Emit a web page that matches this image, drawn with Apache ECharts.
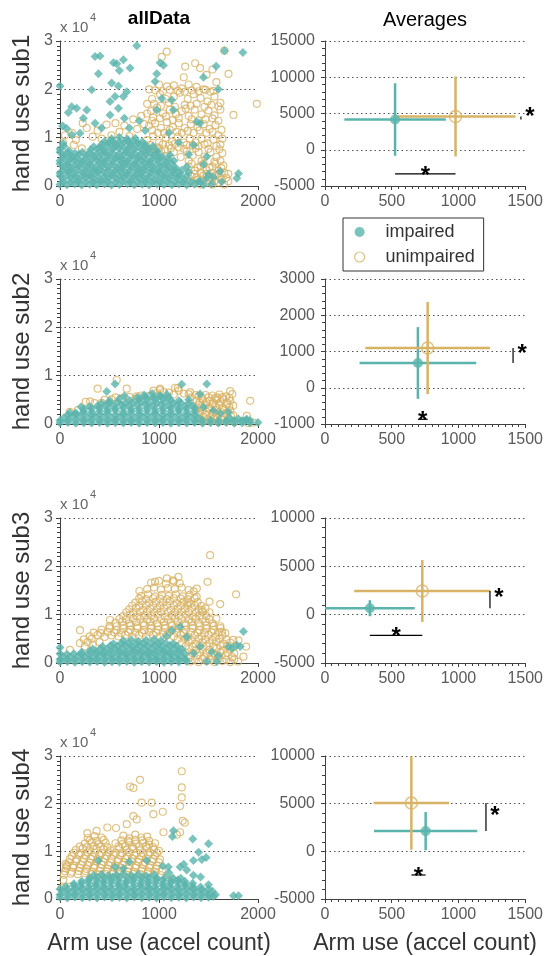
<!DOCTYPE html>
<html>
<head>
<meta charset="utf-8">
<script src="https://cdn.jsdelivr.net/npm/echarts@6/dist/echarts.min.js"></script>
<style>
html, body { margin: 0; padding: 0; background: #fff; }
#main { width: 546px; height: 956px; }
</style>
</head>
<body>
<div id="main"></div>
<script>
// ---- data ----
// allData panels: [arm use, hand use]
const r1Imp = [
  [0,20700],[404,26900],[354,26800],[775,29000],[388,23200],[540,25500],[573,25300],[640,26100],[708,24400],[600,23900],
  [320,19900],[118,16400],[168,16100],[84,15200],[27,12400],[67,11900],[118,10600],[202,10900],[505,17500],[556,18500],
  [590,16100],[640,18500],[674,19500],[590,20700],[522,21300],[270,15700],[236,14000],[354,13000],[505,14700],[1011,25500],
  [1045,25000],[977,23200],[960,21600],[1028,18100],[977,15700],[1129,17800],[1146,15700],[1449,22500],[1577,24800],[1600,20000],
  [1661,28000],[1847,27600],[1382,13300],[1415,13000],[1803,2600],[1786,1600],[1280,4000],[1483,6100],[1618,3000],[1634,900],
  [700,12000],[800,13500],[420,12000],[650,14000],[860,11500],[1100,11000],[1200,9000],[1300,6500],[1350,8500],[1450,4500],
  [1550,1800],[1500,2500],[1400,1000],
  [0,300],[70,250],[150,400],[220,200],[300,350],[370,250],[450,400],[520,200],[600,300],[680,450],[750,250],[830,350],
  [900,200],[980,400],[1050,300],[1130,250],[1200,400],[1280,200],[1360,350],[1450,250],[1530,400],
  [35,900],[110,850],[185,950],[260,900],[335,850],[410,950],[485,900],[560,850],[635,950],[710,900],[785,850],[860,950],
  [935,900],[1010,850],[1085,950],[1160,900],[1240,850],[1320,950],[1420,900],
  [30,1500],[110,1600],[190,1400],[260,1700],[340,1500],[410,1300],[490,1600],[570,1500],[640,1700],[720,1400],[800,1600],
  [870,1500],[950,1300],[1020,1600],[1100,1500],[1180,1700],[1250,1400],[1480,1600],
  [0,2100],[75,2200],[150,2000],[225,2150],[300,2050],[375,2200],[450,2000],[525,2150],[600,2050],[675,2200],[750,2000],
  [825,2150],[900,2050],[975,2200],[1050,2000],[1125,2150],[1200,2050],[1280,2100],
  [0,2700],[80,2900],[150,2600],[230,2800],[300,2500],[380,2900],[450,2700],[530,2600],[610,2900],[680,2700],[760,2500],
  [830,2800],[910,2700],[990,2900],[1060,2600],[1140,2800],[1210,2600],[1300,2900],
  [35,3300],[110,3250],[185,3400],[260,3300],[335,3200],[410,3350],[485,3300],[560,3200],[635,3400],[710,3300],[785,3250],
  [860,3350],[935,3300],[1010,3200],[1085,3400],[1160,3300],[1230,3250],
  [40,4000],[110,3800],[190,4100],[270,3900],[340,3700],[420,4100],[490,3900],[570,3800],[640,4100],[720,3900],[790,3700],
  [870,4000],[940,3800],[1020,4100],[1100,3900],[1170,3700],
  [0,4600],[75,4500],[150,4400],[225,4600],[300,4500],[375,4400],[450,4600],[525,4500],[600,4400],[675,4600],[750,4500],
  [825,4400],[900,4600],[975,4500],[1050,4400],[1130,4600],
  [0,5200],[80,5000],[150,5300],[230,5100],[300,4900],[380,5300],[450,5100],[530,5000],[610,5300],[680,5100],[760,4900],
  [830,5200],[910,5000],[990,5300],[1070,5000],[1150,5200],
  [35,5800],[110,5700],[185,5600],[260,5800],[335,5700],[410,5600],[485,5800],[560,5700],[635,5600],[710,5800],[785,5700],
  [860,5600],[935,5800],[1010,5700],[1090,5600],
  [40,6300],[120,6100],[190,6500],[270,6300],[340,6200],[420,6500],[490,6300],[570,6100],[640,6400],[720,6300],[790,6100],
  [870,6500],[950,6300],[1030,6100],[1110,6400],
  [0,7000],[75,6900],[150,6800],[225,7000],[300,6900],[375,6800],[450,7000],[525,6900],[600,6800],[675,7000],[750,6900],
  [825,6800],[900,7000],[980,6900],
  [0,7600],[90,7300],[310,7500],[380,7700],[450,7400],[530,7600],[600,7800],[680,7400],[750,7600],[830,7400],[900,7700],[980,7300],
  [40,8200],[340,8100],[410,8000],[490,8200],[560,8100],[640,8000],[710,8200],[790,8100],[860,8000],[940,8200],
  [30,8800],[420,8600],[490,8900],[560,8700],[640,9000],[710,8700],[790,8900],[860,8600],
  [450,9200],[530,9300],[600,9100],[680,9300],[750,9200],[830,9100],
  [520,9800],[600,10100],[680,9700],[760,9900]
];
const r1Unimp = [
  [1078,27800],[1988,17000],[1752,14700],[1702,23200],[1540,24100],[1365,25400],[1264,24700],[1415,24400],[1661,28000],[1028,26700],
  [1250,22500],[1480,23000],[900,20000],[880,17000],
  [50,10500],[140,8500],[220,7800],[270,12000],[330,10200],[380,11500],[420,9800],[470,12700],[520,10500],[560,13000],[600,11200],
  [650,12500],[700,10300],[740,13800],[780,11800],[820,14500],[850,12800],[880,15000],[930,13500],[230,13000],[30,9000],[120,11000],[160,9500],
  [1000,21000],[1080,20600],[1150,20800],[1230,20200],[1300,21000],[1380,20500],[1450,20000],[1520,19500],[1580,21500],
  [960,19800],[1040,19600],[1110,19900],[1190,19700],[1260,19500],[1330,19800],[1400,19600],[1470,19900],[1550,19700],
  [930,18000],[1010,19000],[1070,18000],[1150,18500],[1210,19300],[1290,18000],[1350,19000],[1420,18200],[1490,17500],[1560,18500],
  [1620,17200],[1100,17200],[1260,16800],[1380,17000],
  [950,17000],[1020,16600],[1160,16400],[1320,16600],[1460,16400],[1530,16800],[1600,16500],
  [920,15500],[980,16200],[1040,15000],[1110,15800],[1170,14800],[1230,15500],[1300,14500],[1360,15800],[1430,14800],[1500,15600],
  [1560,14600],[1620,15800],[1010,14000],[1270,16000],[1470,13800],[1600,13500],
  [940,14200],[1070,14400],[1140,13700],[1200,14000],[1330,13800],[1400,13600],[1540,14000],
  [900,12500],[960,13000],[1020,12000],[1080,13200],[1140,12200],[1200,13000],[1260,12000],[1320,12800],[1390,12200],[1450,12800],
  [1510,11800],[1570,12600],[1630,11600],[1050,11000],[1180,11200],[1350,11000],[1480,11000],[1600,10500],
  [930,11500],[990,11000],[1110,11600],[1230,11000],[1290,11400],[1410,11500],[1540,11200],
  [880,9500],[940,10300],[1000,9000],[1070,10000],[1130,9200],[1190,10200],[1250,9000],[1310,9800],[1370,9000],[1430,9800],
  [1490,8800],[1550,9600],[1620,8600],[980,8000],[1200,8000],[1400,8200],
  [910,8500],[1040,8600],[1100,8400],[1160,8700],[1280,8500],[1340,8400],[1460,8600],[1580,8300],[1640,9800],
  [930,7700],[1000,7800],[1060,7600],[1120,7800],[1250,7700],[1370,7800],[1500,7700],[1610,7600],
  [900,7000],[960,6300],[1020,7200],[1080,6200],[1150,7000],[1220,6000],[1280,7200],[1340,6300],[1400,7000],[1460,6100],
  [1520,7000],[1580,6000],[1640,6800],[1300,5200],[1430,5200],[1560,5000],[1620,5200],
  [1330,4600],[1390,3800],[1450,4600],[1510,3800],[1570,4600],[1630,3700],[1360,2500],[1420,2700],[1480,2500],[1540,2700],
  [1600,2500],[1660,2700],[1380,1800],[1500,1800],[1620,1800],[1320,1000],[1440,1100],[1560,1000],[1680,1700],
  [1300,4000],[1360,3200],[1420,4200],[1480,3300],[1540,4000],[1600,3200],[1650,4200],[1330,2000],[1390,1300],[1450,2200],
  [1510,1200],[1570,2200],[1630,1300],[1350,600],[1420,300],[1480,700],[1540,300],[1600,700],[1660,300],[1700,1000],[1700,2500]
];
const r2Imp = [
  [0,200],[80,300],[160,150],[240,250],[320,200],[400,300],[480,150],[560,250],[640,200],[720,300],[800,150],[880,250],[960,200],
  [1040,300],[1120,150],[1200,250],[1280,200],[1360,300],[1440,150],[1520,250],[1600,200],[1680,300],[1760,150],[1840,250],[1920,200],[2000,300],
  [0,700],[80,800],[160,750],[240,700],[320,800],[400,750],[480,700],[560,800],[640,750],[720,700],[800,800],[880,750],
  [960,700],[1040,800],[1120,750],[1200,700],[1280,800],[1360,750],[1440,700],[1520,800],[1600,750],[1680,700],[1760,750],[1840,650],[1920,700],
  [40,1300],[120,1500],[200,1400],[280,1300],[360,1500],[440,1400],[520,1300],[600,1500],[680,1400],[760,1300],[840,1500],
  [920,1400],[1000,1300],[1080,1500],[1160,1400],[1240,1300],[1320,1500],[1400,1300],[1720,1200],[1800,1100],[1880,900],
  [80,1900],[160,2000],[240,2100],[320,1900],[400,2000],[480,2100],[560,1900],[640,2000],[720,2100],[800,1900],[880,2000],
  [960,2100],[1040,1900],[1120,2000],[1200,2100],[1280,1900],[1360,2000],
  [160,2300],[240,2600],[320,2500],[400,2700],[480,2600],[560,2800],[640,2500],[720,2700],[800,2600],[880,2800],[960,2500],
  [1040,2700],[1120,2600],[1200,2800],[1280,2500],[1360,2700],
  [240,3100],[320,3200],[400,3300],[480,3100],[560,3200],[640,3300],[720,3100],[800,3200],[880,3300],[960,3100],[1040,3200],
  [1120,3300],[1200,3100],[1280,3200],[1360,3300],
  [300,3600],[380,3800],[460,3900],[540,3700],[620,4000],[700,3800],[780,3900],[860,4100],[940,3800],[1020,4000],[1100,3700],
  [1180,3900],[1260,3600],[1340,3800],
  [420,4300],[500,4400],[580,4500],[660,4300],[740,4400],[820,4500],[900,4300],[980,4400],[1060,4500],[1140,4300],[1220,4400],[1300,4300],
  [500,4800],[600,5200],[700,4900],[800,5100],[880,5300],[960,5000],[1040,5200],[1120,4900],[1200,4800],
  [780,5500],[860,5600],[940,5500],[1020,5700],[1100,5500],
  [850,6000],[930,6300],[1000,5900],[1080,6100],
  [1483,8300],[1230,8200],[472,6700],[556,8300],[1618,2200],[1887,1000],[2039,100],[212,3500],[1415,6200],[650,5800],
  [1300,5000],[1450,3500],[1550,2800],[1700,2500],[100,2400]
];
const r2Unimp = [
  [573,9100],[380,7300],[674,7300],[1011,7300],[1163,7500],[1314,6600],[1718,6800],[1921,4800],[1887,1700],[1955,300],
  [303,4700],[775,5700],[943,6900],[1190,7400],[1010,7000],[1590,5500],
  [1400,5800],[1470,6000],[1540,5900],[1610,6100],[1680,5700],[1740,6200],
  [1430,5400],[1500,5500],[1570,5400],[1640,5500],[1710,5400],
  [1380,4900],[1440,5100],[1510,4800],[1580,5000],[1650,5100],[1720,4800],
  [1410,4500],[1480,4500],[1550,4400],[1620,4500],[1690,4400],
  [1400,4000],[1470,3900],[1540,4100],[1610,3900],[1680,4100],[1750,3800],
  [1430,3500],[1500,3400],[1570,3500],[1640,3400],[1710,3500],
  [1380,3000],[1440,2800],[1510,3100],[1580,2900],[1650,3000],[1720,2800],
  [1410,2400],[1480,2500],[1550,2400],[1620,2500],[1690,2400],
  [1400,2000],[1470,1900],[1540,2100],[1610,1900],[1680,2100],[1750,1800],
  [1450,1500],[1520,1400],[1590,1500],[1660,1400],[1730,1500],
  [1420,1000],[1490,900],[1560,1100],[1630,900],[1700,1000],[1760,400],[1850,600],[1900,200],
  [1450,500],[1530,600],[1600,400],[1680,500],
  [100,2500],[260,4600],[350,4300],[450,5000],[560,5500],[700,5600],[820,5900],[1050,6600],[1150,6100],[1250,6300],[1320,5500],[1370,6000],
  [180,2900],[420,4400],[620,5300],[760,5200],[900,5800],[980,6400],[1100,6500],[1200,6900],[1300,6200],[520,5100]
];
const r3Imp = [
  [0,200],[75,300],[150,150],[225,250],[300,200],[375,300],[450,150],[525,250],[600,200],[675,300],[750,150],[825,250],
  [900,200],[975,300],[1050,150],[1125,250],[1200,200],[1280,300],
  [0,700],[75,800],[150,750],[225,700],[300,800],[375,750],[450,700],[525,800],[600,750],[675,700],[750,800],[825,750],
  [900,700],[975,800],[1050,750],[1125,700],[1200,800],[1270,750],
  [30,1300],[105,1200],[180,1400],[255,1300],[330,1200],[405,1400],[480,1300],[555,1200],[630,1400],[705,1300],[780,1200],
  [855,1400],[930,1300],[1005,1200],[1080,1400],[1160,1300],[1240,1200],
  [0,1900],[70,1800],[140,1900],[215,1850],[290,1800],[365,1900],[440,1850],[515,1800],[590,1900],[665,1850],[740,1800],
  [815,1900],[890,1850],[965,1800],[1040,1900],[1115,1850],[1190,1800],[1260,1900],
  [220,2300],[300,2500],[370,2400],[450,2300],[520,2500],[600,2400],[670,2300],[750,2500],[820,2400],[900,2300],[970,2500],
  [1050,2400],[1120,2300],[1200,2500],
  [330,2900],[410,3000],[480,2950],[560,2900],[630,3000],[710,2950],[780,2900],[860,3000],[930,2950],[1010,2900],[1080,3000],
  [1160,2950],[1230,2900],
  [430,3400],[510,3600],[580,3500],[660,3700],[730,3400],[810,3600],[880,3500],[960,3700],[1030,3400],[1110,3600],[1180,3500],
  [540,4000],[620,4100],[690,4050],[770,4000],[840,4100],[920,4050],[990,4000],[1070,4100],[1140,4000],
  [640,4600],[720,4800],[790,4500],[870,4700],[950,4900],[1020,4600],
  [1213,7500],[1129,6700],[1853,6500],[1786,3700],[1820,3400],[1702,3400],[2022,2700],[2032,2100],[1533,2300],[1584,300],
  [1483,300],[0,3200],[1415,3400],[1280,5400],[1078,5600],[1350,2000],[1600,1500],[1740,3000]
];
const r3Unimp = [
  [1516,22300],[1490,16800],[1779,14200],[1618,12200],[1510,12700],[202,6800],[505,8900],[802,14900],[960,16800],[1196,17800],
  [1382,15400],[1634,6500],[1803,4700],[1880,3400],[1853,1300],[1080,17500],[1150,16900],[1350,14800],[1300,12500],[1430,11000],
  [920,16600],[1000,17000],[1070,16400],[1140,17100],[1210,16500],
  [880,15300],[950,15600],[1020,15200],[1090,15500],[1160,15300],[1230,15600],[1300,15100],
  [820,13900],[890,14200],[960,13800],[1030,14100],[1100,13900],[1170,14200],[1240,13800],[1310,14100],[1380,13700],
  [800,13300],[870,13200],[940,13400],[1010,13300],[1080,13200],[1150,13400],[1220,13300],[1290,13200],[1360,13400],
  [760,12500],[830,12800],[900,12400],[970,12700],[1040,12500],[1110,12800],[1180,12400],[1250,12700],[1320,12300],[1390,12600],
  [730,11900],[800,11800],[870,12000],[940,11900],[1010,11800],[1080,12000],[1150,11900],[1220,11800],[1290,12000],[1360,11900],[1430,11800],
  [700,11100],[770,11400],[840,11000],[910,11300],[980,11100],[1050,11400],[1120,11000],[1190,11300],[1260,11100],[1330,11400],[1400,11000],[1470,11300],
  [670,10500],[740,10400],[810,10600],[880,10500],[950,10400],[1020,10600],[1090,10500],[1160,10400],[1230,10600],[1300,10500],[1370,10400],[1440,10600],[1510,10500],
  [640,9700],[710,10000],[780,9600],[850,9900],[920,9700],[990,10000],[1060,9600],[1130,9900],[1200,9700],[1270,10000],[1340,9600],[1410,9900],[1480,9700],
  [600,9100],[670,9000],[740,9200],[810,9100],[880,9000],[950,9200],[1020,9100],[1090,9000],[1160,9200],[1230,9100],[1300,9000],[1370,9200],[1440,9100],[1510,9000],[1580,9200],
  [560,8300],[630,8600],[700,8200],[770,8500],[840,8300],[910,8600],[980,8200],[1050,8500],[1120,8300],[1190,8600],[1260,8200],
  [1330,8500],[1400,8300],[1470,8600],[1540,8200],
  [500,7700],[570,7600],[640,7800],[710,7700],[780,7600],[850,7800],[920,7700],[990,7600],[1060,7800],[1130,7700],[1200,7600],
  [1270,7800],[1340,7700],[1410,7600],[1480,7800],[1550,7700],[1620,7600],
  [420,6900],[500,7200],[570,6800],[640,7100],[710,6900],[780,7200],[850,6800],[920,7100],[990,6900],[1060,7200],[1130,6800],
  [1200,7100],[1270,6900],[1340,7200],[1410,6800],[1480,7100],[1550,6900],[1620,7200],
  [340,6300],[410,6200],[480,6400],[550,6300],[620,6200],[690,6400],[760,6300],[830,6200],[900,6400],[970,6300],[1040,6200],
  [1110,6400],[1180,6300],[1250,6200],[1320,6400],[1390,6300],[1460,6200],[1530,6400],[1600,6300],[1670,6200],
  [300,5500],[380,5800],[450,5400],[520,5700],[590,5500],[660,5800],[730,5400],[800,5700],[870,5500],[940,5800],[1010,5400],
  [1080,5700],[1150,5500],[1220,5800],[1290,5400],[1360,5700],[1430,5500],[1500,5800],[1570,5400],[1640,5700],
  [240,4900],[320,5000],[1190,4900],[1260,5000],[1330,4800],[1400,5000],[1470,4900],[1540,4800],[1610,5000],[1680,4900],[1750,4800],
  [200,4100],[280,4300],[1230,4100],[1300,4400],[1370,4000],[1440,4300],[1510,4100],[1580,4400],[1650,4000],[1720,4200],
  [250,3400],[330,3800],[400,4300],
  [1270,3500],[1340,3400],[1410,3600],[1480,3500],[1550,3400],[1620,3600],[1690,3500],[1760,3400],
  [100,2700],[1300,2900],[1370,2600],[1440,2900],[1510,2700],[1580,3000],[1650,2600],[1720,2900],
  [1270,2100],[1340,2000],[1410,2200],[1480,2100],[1550,2000],[1620,2200],[1690,2100],[1760,2000],
  [1320,1300],[1390,1600],[1460,1200],[1530,1500],[1600,1300],[1670,1600],[1740,1200],
  [1360,700],[1440,800],[1520,600],[1600,800],[1680,700],[1760,800],
  [1320,300],[1400,200],[1480,400],[1560,200],[1640,400],[1720,200],[1800,300]
];
const r4Imp = [
  [0,300],[75,200],[150,400],[225,250],[300,350],[375,200],[450,400],[525,250],[600,350],[675,200],[750,400],[825,250],
  [900,350],[975,200],[1050,400],[1125,250],[1200,350],[1275,200],[1350,400],[1425,250],[1500,350],
  [0,900],[75,850],[150,950],[225,900],[300,850],[375,950],[450,900],[525,850],[600,950],[675,900],[750,850],[825,950],
  [900,900],[975,850],[1050,950],[1125,900],[1200,850],[1275,950],[1350,900],[1425,850],[1500,950],[1570,900],
  [30,1500],[110,1400],[180,1600],[260,1500],[330,1400],[410,1600],[480,1500],[560,1400],[630,1600],[710,1500],[780,1400],
  [860,1600],[930,1500],[1010,1400],[1080,1600],[1160,1500],[1230,1400],[1310,1600],[1380,1500],[1460,1400],[1540,1600],
  [0,2100],[75,2000],[150,2200],[225,2100],[300,2000],[375,2200],[450,2100],[525,2000],[600,2200],[675,2100],[750,2000],
  [825,2200],[900,2100],[975,2000],[1050,2200],[1125,2100],[1200,2000],[1275,2200],[1350,2100],[1430,2000],[1500,2100],
  [60,2600],[140,2800],[210,2700],[290,2600],[360,2800],[440,2700],[510,2600],[590,2800],[660,2700],[740,2600],[810,2800],
  [890,2700],[960,2600],[1040,2800],[1110,2700],[1190,2600],[1260,2800],[1340,2700],[1420,2500],
  [140,3200],[215,3300],[290,3400],[365,3200],[440,3300],[515,3400],[590,3200],[665,3300],[740,3400],[815,3200],[890,3300],
  [965,3400],[1040,3200],[1115,3300],[1190,3400],[1265,3200],[1340,3300],
  [220,3800],[290,4000],[370,3900],[440,3800],[520,4000],[590,3900],[670,3800],[740,4000],[820,3900],[890,3800],[970,4000],
  [1040,3900],[1120,3800],[1190,4000],[1260,3700],
  [300,4400],[380,4500],[450,4400],[530,4600],[600,4450],[680,4500],[750,4400],[830,4550],[900,4450],[980,4400],[1060,4500],
  [1140,4400],[1220,4350],
  [340,5000],[420,5200],[490,4900],[570,5100],[640,5300],[720,5000],[790,5200],[870,4900],[950,5100],
  [1146,14300],[1136,13100],[1341,12600],[1500,11600],[1432,8300],[1348,8100],[1476,8700],[1095,6700],[1038,6900],[1213,6700],
  [1280,6100],[1348,5000],[1420,4600],[388,8100],[556,6700],[640,6400],[1753,700],[1803,700],[1550,550],[876,8100],
  [1100,5500],[1500,3000],[1400,9800],[1250,7300],[700,7800]
];
const r4Unimp = [
  [1230,26800],[1230,23400],[809,25000],[708,23600],[741,23300],[825,20200],[926,20200],[1038,18300],[943,17800],[741,17400],
  [674,15700],[775,16700],[1230,21300],[1213,19500],[1240,16400],[1260,16000],[1213,14000],[1045,14000],[478,15000],[566,14900],
  [276,13800],[370,14300],[57,7400],[70,6800],[34,4000],[17,2300],[101,2600],[1129,4100],[1516,900],[1180,13500],
  [280,12800],[350,13200],[420,12900],[640,13300],[700,12700],[760,13500],[820,12900],[880,13100],
  [300,12300],[370,12200],[440,12400],[620,12300],[690,12200],[760,12400],[830,12300],[900,12200],
  [250,11600],[320,11900],[390,11500],[460,11800],[560,11700],[630,11500],[700,11900],[770,11600],[840,11800],[900,11400],[960,11700],
  [200,11000],[270,10900],[340,11100],[410,11000],[480,10900],[590,11000],[660,11100],[730,10900],[800,11000],[870,11100],[940,10900],
  [160,10300],[230,10600],[300,10200],[370,10500],[440,10400],[510,10200],[600,10600],[670,10300],[740,10500],[810,10200],[880,10600],[950,10400],[1000,10100],
  [140,9700],[210,9600],[280,9800],[350,9700],[420,9600],[490,9800],[560,9700],[630,9600],[700,9800],[770,9700],[840,9600],[910,9800],[980,9700],
  [120,9000],[190,9300],[260,9100],[330,8900],[400,9200],[470,9000],[540,9300],[610,9100],[680,8900],[750,9200],[820,9000],[890,9300],[960,9100],
  [100,8400],[170,8300],[240,8500],[310,8400],[380,8300],[450,8500],[520,8400],[590,8300],[660,8500],[730,8400],[800,8300],[870,8500],[940,8400],[1010,8300],
  [90,7700],[160,7900],[230,7800],[300,7600],[370,7900],[440,7800],[510,7600],[580,7900],[650,7700],[720,7900],[790,7800],[860,7600],[930,7900],[1000,7700],
  [70,7100],[140,7000],[210,7200],[280,7100],[350,7000],[420,7200],[490,7100],[560,7000],[630,7200],[700,7100],[770,7000],[840,7200],[910,7100],[980,7000],
  [60,6400],[130,6600],[200,6500],[270,6300],[340,6600],[410,6500],[480,6300],[550,6600],[620,6500],[690,6400],[760,6600],[830,6400],[900,6600],[970,6300],
  [50,5800],[120,5700],[190,5900],[260,5800],[330,5700],[400,5900],[470,5800],[540,5700],[610,5900],[680,5800],[750,5700],[820,5900],[890,5800],[960,5700],[1030,5900],
  [40,5100],[110,5300],[180,5200],[250,5400],[320,5200],[390,5100],[460,5300],[530,5200],[600,5400],[670,5100],[740,5300],[810,5200],[880,5400],[950,5200],[1020,5000]
];
const allImp = [r1Imp, r2Imp, r3Imp, r4Imp];
const allUnimp = [r1Unimp, r2Unimp, r3Unimp, r4Unimp];

// Averages panels, one value per subject
const impMeanX = [525, 696, 336, 754];
const impMeanY = [4170, 683, 668, 2120];
const impErrX = [380, 437, 336, 387];
const impErrY = [5000, 990, 830, 2000];
const unMeanX = [978, 769, 729, 647];
const unMeanY = [4590, 1095, 2450, 5060];
const unErrX = [449, 467, 510, 283];
const unErrY = [5515, 1270, 3200, 4890];
const sigBarY = [-3340, -870, -2150, -2480]; // height of the arm-use significance bar
const sigBarX = [1468, 1409, 1236, 1206];    // position of the hand-use significance bar

const subjects = ['sub1', 'sub2', 'sub3', 'sub4'];
const avgYMin = [-5000, -1000, -5000, -5000];
const avgYMax = [15000, 3000, 10000, 10000];
const avgYStep = [5000, 1000, 5000, 5000];

// ---- chart ----
const TEAL = '#5ab4ac';
const TAN = '#d8b365';
const FONT = 'Liberation Sans';
const rowTop = [41, 279, 518, 756];

const grid = [], xAxis = [], yAxis = [], series = [], graphic = [];

function axisBase() {
  return {
    type: 'value',
    axisLine: { show: true, onZero: false, lineStyle: { color: '#404040', width: 1 } },
    axisTick: { show: true, length: 4, lineStyle: { color: '#404040' } },
    axisLabel: { color: '#5a5a5a', fontSize: 16, fontFamily: FONT, formatter: v => String(v) },
    splitLine: { show: false }
  };
}
const dotted = { show: true, lineStyle: { color: '#555', width: 1, type: [1.5, 3] } };

for (let i = 0; i < 4; i++) {
  grid.push({ left: 60, top: rowTop[i], width: 198, height: 145 });
}
for (let i = 0; i < 4; i++) {
  grid.push({ left: 325, top: rowTop[i], width: 201, height: 145 });
}

for (let i = 0; i < 4; i++) {
  // allData column
  const xa = Object.assign(axisBase(), { gridIndex: i, min: 0, max: 2000, interval: 1000 });
  const ya = Object.assign(axisBase(), {
    gridIndex: i, min: 0, max: 30000, interval: 10000,
    minorTick: { show: true, splitNumber: 10, length: 3, lineStyle: { color: '#404040' } },
    splitLine: dotted,
    name: 'hand use ' + subjects[i], nameLocation: 'middle', nameGap: 26,
    nameTextStyle: { fontSize: 24, color: '#333', fontFamily: FONT }
  });
  ya.axisLabel = Object.assign({}, ya.axisLabel, { margin: 7, formatter: v => String(v / 10000) });
  if (i === 3) {
    xa.name = 'Arm use (accel count)';
    xa.nameLocation = 'middle';
    xa.nameGap = 33;
    xa.nameTextStyle = { fontSize: 23, color: '#333', fontFamily: FONT };
  }
  xAxis[i] = xa;
  yAxis[i] = ya;

  series.push({
    type: 'scatter', name: 'unimpaired', xAxisIndex: i, yAxisIndex: i,
    symbol: 'circle', symbolSize: 7,
    itemStyle: { color: 'rgba(0,0,0,0)', borderColor: TAN, borderWidth: 1.2 },
    data: allUnimp[i]
  });
  series.push({
    type: 'scatter', name: 'impaired', xAxisIndex: i, yAxisIndex: i,
    symbol: 'diamond', symbolSize: 9,
    itemStyle: { color: TEAL },
    data: allImp[i]
  });

  graphic.push({ type: 'text', x: 60, y: rowTop[i] - 13.5,
    style: { text: 'x 10', font: '15px "Liberation Sans"', fill: '#666', align: 'left', verticalAlign: 'middle' } });
  graphic.push({ type: 'text', x: 90, y: rowTop[i] - 23.5,
    style: { text: '4', font: '11px "Liberation Sans"', fill: '#666', align: 'left', verticalAlign: 'middle' } });
}

function errBars(gi, mx, my, ex, ey, color) {
  return {
    type: 'custom', xAxisIndex: gi, yAxisIndex: gi, silent: true,
    data: [[mx, my, ex, ey]],
    renderItem: function (params, api) {
      const x = api.value(0), y = api.value(1), dx = api.value(2), dy = api.value(3);
      const l = api.coord([x - dx, y]), r = api.coord([x + dx, y]);
      const t = api.coord([x, y + dy]), b = api.coord([x, y - dy]);
      const st = { stroke: color, lineWidth: 2.5 };
      return { type: 'group', children: [
        { type: 'line', shape: { x1: l[0], y1: l[1], x2: r[0], y2: r[1] }, style: st },
        { type: 'line', shape: { x1: t[0], y1: t[1], x2: b[0], y2: b[1] }, style: st }
      ] };
    }
  };
}

for (let i = 0; i < 4; i++) {
  const gi = i + 4;
  const xa = Object.assign(axisBase(), {
    gridIndex: gi, min: 0, max: 1500, interval: 500,
    minorTick: { show: true, splitNumber: 10, length: 3, lineStyle: { color: '#404040' } }
  });
  const ya = Object.assign(axisBase(), {
    gridIndex: gi, min: avgYMin[i], max: avgYMax[i], interval: avgYStep[i],
    minorTick: { show: true, splitNumber: 5, length: 3, lineStyle: { color: '#404040' } },
    splitLine: dotted
  });
  ya.axisLabel = Object.assign({}, ya.axisLabel, { margin: 10 });
  if (i === 3) {
    xa.name = 'Arm use (accel count)';
    xa.nameLocation = 'middle';
    xa.nameGap = 33;
    xa.nameTextStyle = { fontSize: 23, color: '#333', fontFamily: FONT };
  }
  xAxis[gi] = xa;
  yAxis[gi] = ya;

  series.push(errBars(gi, impMeanX[i], impMeanY[i], impErrX[i], impErrY[i], TEAL));
  series.push(errBars(gi, unMeanX[i], unMeanY[i], unErrX[i], unErrY[i], TAN));
  series.push({
    type: 'scatter', name: 'impaired', xAxisIndex: gi, yAxisIndex: gi,
    symbol: 'circle', symbolSize: 10, itemStyle: { color: TEAL },
    data: [[impMeanX[i], impMeanY[i]]]
  });
  series.push({
    type: 'scatter', name: 'unimpaired', xAxisIndex: gi, yAxisIndex: gi,
    symbol: 'circle', symbolSize: 12,
    itemStyle: { color: 'rgba(255,255,255,0)', borderColor: TAN, borderWidth: 1.5 },
    data: [[unMeanX[i], unMeanY[i]]]
  });
  // significance markers
  series.push({
    type: 'custom', xAxisIndex: gi, yAxisIndex: gi, silent: true,
    data: [[impMeanX[i], unMeanX[i], sigBarY[i], sigBarX[i], impMeanY[i], unMeanY[i]]],
    renderItem: function (params, api) {
      const a = api.coord([api.value(0), api.value(2)]);
      const b = api.coord([api.value(1), api.value(2)]);
      const c = api.coord([api.value(3), api.value(4)]);
      const d = api.coord([api.value(3), api.value(5)]);
      const st = { stroke: '#000', lineWidth: 1.2 };
      const star = { text: '*', font: 'bold 24px "Liberation Sans"', fill: '#000', align: 'center', verticalAlign: 'middle' };
      return { type: 'group', children: [
        { type: 'line', shape: { x1: a[0], y1: a[1], x2: b[0], y2: b[1] }, style: st },
        { type: 'text', x: (a[0] + b[0]) / 2, y: a[1] + 2, style: star },
        { type: 'line', shape: { x1: c[0], y1: c[1], x2: d[0], y2: d[1] }, style: st },
        { type: 'text', x: c[0] + 9, y: (c[1] + d[1]) / 2 - 1, style: star }
      ] };
    }
  });
}

graphic.push({ type: 'text', x: 159, y: 19,
  style: { text: 'allData', font: 'bold 19px "Liberation Sans"', fill: '#000', align: 'center', verticalAlign: 'middle' } });
graphic.push({ type: 'text', x: 425, y: 20,
  style: { text: 'Averages', font: '20px "Liberation Sans"', fill: '#000', align: 'center', verticalAlign: 'middle' } });

const chart = echarts.init(document.getElementById('main'), null, { renderer: 'canvas' });
chart.setOption({
  backgroundColor: '#fff',
  animation: false,
  grid: grid,
  xAxis: xAxis,
  yAxis: yAxis,
  legend: {
    orient: 'vertical', left: 343, top: 218,
    padding: [5, 9, 5, 11], itemWidth: 42, itemHeight: 10, itemGap: 7,
    borderColor: '#333', borderWidth: 1, selectedMode: false,
    textStyle: { fontSize: 18, color: '#333', fontFamily: FONT },
    data: [
      { name: 'impaired', icon: 'circle', itemStyle: { color: TEAL } },
      { name: 'unimpaired', icon: 'circle', itemStyle: { color: '#fff', borderColor: TAN, borderWidth: 1.2 } }
    ]
  },
  graphic: graphic,
  series: series
});
</script>
</body>
</html>
